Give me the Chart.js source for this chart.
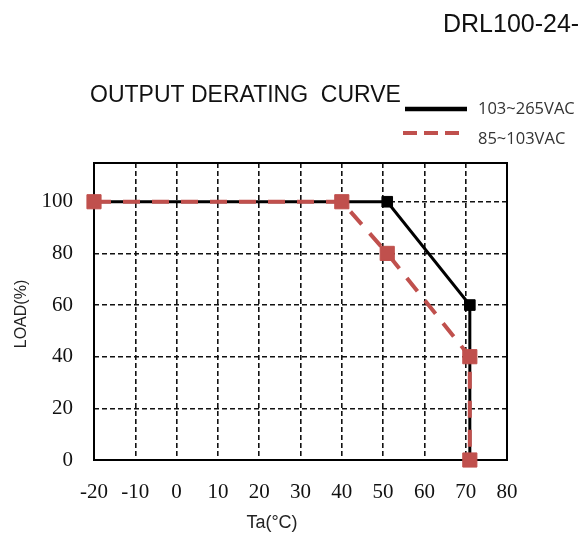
<!DOCTYPE html>
<html><head><meta charset="utf-8">
<script src="https://cdn.jsdelivr.net/npm/chart.js@4"></script>
<style>html,body{margin:0;padding:0;background:#fff}</style>
</head><body><canvas id="c" width="582" height="539"></canvas>
<script>
const modelName = 'DRL100-24-';
const chartTitle = 'OUTPUT DERATING  CURVE';
const xTitle = 'Ta(°C)';
const yTitle = 'LOAD(%)';
const seriesNames = ['103~265VAC', '85~103VAC'];
const highTemp = [-20, 51, 71, 71];
const highLoad = [100, 100, 60, 0];
const lowTemp = [-20, 40, 51, 71, 71];
const lowLoad = [100, 100, 80, 40, 0];
const xTicks = [-20, -10, 0, 10, 20, 30, 40, 50, 60, 70, 80];
const yTicks = [0, 20, 40, 60, 80, 100];

const RED = '#C0504D';
const toPts = (xs, ys) => xs.map((x, i) => ({x, y: ys[i]}));

const frame = {
  id: 'frame',
  beforeDatasetsDraw(chart) {
    const {ctx, chartArea: a} = chart;
    ctx.save();
    ctx.strokeStyle = '#000';
    ctx.lineWidth = 2;
    ctx.strokeRect(a.left, a.top, a.right - a.left, a.bottom - a.top);
    ctx.restore();
  },
  afterDraw(chart) {
    const ctx = chart.ctx;
    ctx.save();
    ctx.fillStyle = '#111';
    ctx.textBaseline = 'alphabetic';
    ctx.textAlign = 'left';
    ctx.font = '25px "Liberation Sans", Arial, sans-serif';
    ctx.fillText(modelName, 443, 32);
    ctx.font = '23px "Liberation Sans", Arial, sans-serif';
    ctx.fillText(chartTitle, 90, 102);
    // legend
    const ds = chart.data.datasets;
    ctx.lineWidth = 4.5;
    ctx.strokeStyle = ds[1].borderColor;
    ctx.beginPath(); ctx.moveTo(405, 109); ctx.lineTo(467, 109); ctx.stroke();
    ctx.strokeStyle = ds[0].borderColor;
    ctx.lineWidth = 4;
    ctx.setLineDash([14, 7]);
    ctx.beginPath(); ctx.moveTo(403, 133); ctx.lineTo(462, 133); ctx.stroke();
    ctx.setLineDash([]);
    ctx.fillStyle = '#333';
    ctx.font = '16.5px "Open Sans", sans-serif';
    ctx.textBaseline = 'middle';
    ctx.fillText(ds[1].label, 478, 109);
    ctx.fillText(ds[0].label, 478, 139);
    // axis titles
    ctx.fillStyle = '#222';
    ctx.font = '18px "Liberation Sans", Arial, sans-serif';
    ctx.textAlign = 'center';
    ctx.fillText(xTitle, 272, 523);
    ctx.font = '16px "Liberation Sans", Arial, sans-serif';
    ctx.translate(22, 314);
    ctx.rotate(-Math.PI / 2);
    ctx.fillText(yTitle, 0, 0);
    ctx.restore();
  }
};

new Chart(document.getElementById('c'), {
  type: 'line',
  data: {
    datasets: [
      {
        label: seriesNames[1],
        data: toPts(lowTemp, lowLoad),
        borderColor: RED,
        backgroundColor: RED,
        borderWidth: 4,
        borderDash: [17, 12],
        pointStyle: 'rect',
        pointRadius: 10,
        pointBorderWidth: 1,
        pointBorderColor: RED,
        pointBackgroundColor: RED,
        tension: 0,
        fill: false,
        clip: false,
        order: 0
      },
      {
        label: seriesNames[0],
        data: toPts(highTemp, highLoad),
        borderColor: '#000',
        backgroundColor: '#000',
        borderWidth: 3,
        pointStyle: 'rect',
        pointRadius: 7.5,
        pointBorderWidth: 1,
        pointBorderColor: '#000',
        pointBackgroundColor: '#000',
        tension: 0,
        fill: false,
        clip: false,
        order: 1
      }
    ]
  },
  options: {
    responsive: false,
    animation: false,
    devicePixelRatio: 1,
    layout: {padding: {left: 0, right: 75, top: 163, bottom: 0}},
    plugins: {legend: {display: false}, tooltip: {enabled: false}},
    scales: {
      x: {
        type: 'linear',
        min: -20,
        max: 80,
        afterBuildTicks: s => { s.ticks = xTicks.map(v => ({value: v})); },
        afterFit: s => { s.height = 79; },
        grid: {color: '#111', lineWidth: 1.6, drawTicks: false},
        border: {display: false, dash: [5, 3]},
        ticks: {
          color: '#111',
          padding: 20,
          maxRotation: 0,
          autoSkip: false,
          font: {family: '"Liberation Serif", "Times New Roman", serif', size: 21}
        }
      },
      y: {
        type: 'linear',
        min: 0,
        max: 115,
        afterBuildTicks: s => { s.ticks = yTicks.map(v => ({value: v})); },
        afterFit: s => { s.width = 94; },
        grid: {color: '#111', lineWidth: 1.6, drawTicks: false},
        border: {display: false, dash: [5, 3]},
        ticks: {
          color: '#111',
          padding: 21,
          autoSkip: false,
          font: {family: '"Liberation Serif", "Times New Roman", serif', size: 21}
        }
      }
    }
  },
  plugins: [frame]
});
</script>
</body></html>
